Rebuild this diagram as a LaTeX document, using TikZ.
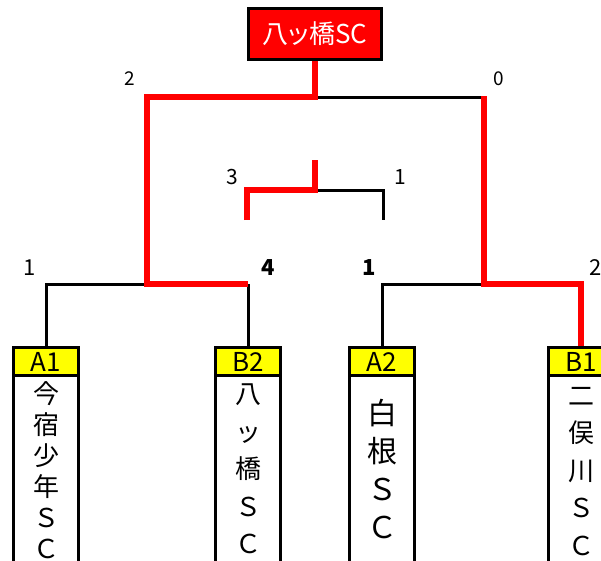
\documentclass[tikz,border=0pt]{standalone}
\usepackage{fontspec}
\setmainfont{Noto Sans CJK JP}
\newfontfamily\cjk{Noto Sans CJK JP}
\newfontfamily\cjkp[RawFeature=+palt]{Noto Sans CJK JP}
\usetikzlibrary{positioning}

\definecolor{winred}{RGB}{255,0,0}
\definecolor{headyellow}{RGB}{255,255,0}

\tikzset{
  team head/.style={draw, line width=3pt, fill=headyellow, minimum width=65pt,
    minimum height=28pt, inner sep=0pt, font=\fontsize{26}{26}\selectfont},
  team body/.style={draw, line width=3pt, minimum width=65pt,
    minimum height=220pt, inner sep=0pt},
  team name/.style={inner sep=0pt, align=center, font=\cjk\fontsize{26}{37.5}\selectfont},
  champ box/.style={draw, line width=3pt, fill=winred, text=white, minimum width=133pt,
    minimum height=51pt, inner sep=0pt, font=\cjkp\fontsize{26}{26}\selectfont},
  lose/.style={line width=3pt, black},
  win/.style={line width=6pt, winred, line join=miter},
  score/.style={inner sep=0pt, font=\fontsize{21}{21}\selectfont},
}

\begin{document}
\begin{tikzpicture}[x=1pt,y=-1pt]
  \useasboundingbox (0,0) rectangle (601,560);
  \clip (0,0) rectangle (601,560);

  % champion
  \node[champ box] (champ) at (315,34) {八ッ橋SC};

  % teams
  \node[team head] (A1) at (46,361.5) {A1};
  \node[team head] (B2) at (248,361.5) {B2};
  \node[team head] (A2) at (382,361.5) {A2};
  \node[team head] (B1) at (581,361.5) {B1};
  \foreach \t in {A1,B2,A2,B1}
    \node[team body, below=-3pt of \t, anchor=north] (\t b) {};

  \node[team name, font=\cjk\fontsize{26}{31}\selectfont, below=4pt of A1] (A1t)
    {今\\宿\\少\\年\\Ｓ\\Ｃ};
  \node[team name, below=7pt of B2] (B2t) {八\\ッ\\橋\\Ｓ\\Ｃ};
  \node[team name, font=\cjk\fontsize{30}{38}\selectfont, below=22pt of A2] (A2t)
    {白\\根\\Ｓ\\Ｃ};
  \node[team name, below=10pt of B1] (B1t) {二\\俣\\川\\Ｓ\\Ｃ};

  % bracket corners
  \coordinate (fL) at (147,97);
  \coordinate (fM) at (315,97);
  \coordinate (fR) at (484,97);
  \coordinate (sL) at (147,284);
  \coordinate (sR) at (484,284);
  \coordinate (tM) at (315,190);
  \coordinate (tT) at (315,160);
  \coordinate (tL) at (247,220);
  \coordinate (tR) at (383,220);

  % lost lines
  \draw[lose] (A1.north) |- (sL);
  \draw[lose] (B2.north) -- (B2.north |- sL);
  \draw[lose] (A2.north) |- (sR);
  \draw[lose] (fM) -- (fR);
  \draw[lose] (tM) -| (tR);

  % won lines
  \draw[win] (B2.north |- sL) -- (sL) -- (fL) -- (fM) -- (champ.south);
  \draw[win] (B1.north) |- (sR) -- ([yshift=1.5pt]fR);
  \draw[win] (tL) |- (tM) -- (tT);

  % scores
  \node[score, font=\fontsize{19}{19}\selectfont] (s1) at (130,79) {2};
  \node[score, font=\fontsize{19}{19}\selectfont] (s2) at (499,79) {0};
  \node[score] (s3) at (232,177) {3};
  \node[score] (s4) at (400,177) {1};
  \node[score, font=\fontsize{22}{22}\selectfont] (s5) at (30,268) {1};
  \node[score, font=\bfseries\fontsize{22}{22}\selectfont] (s6) at (268,268) {4};
  \node[score, font=\bfseries\fontsize{22}{22}\selectfont] (s7) at (369,268) {1};
  \node[score, font=\fontsize{22}{22}\selectfont] (s8) at (596,268) {2};
\end{tikzpicture}
\end{document}
